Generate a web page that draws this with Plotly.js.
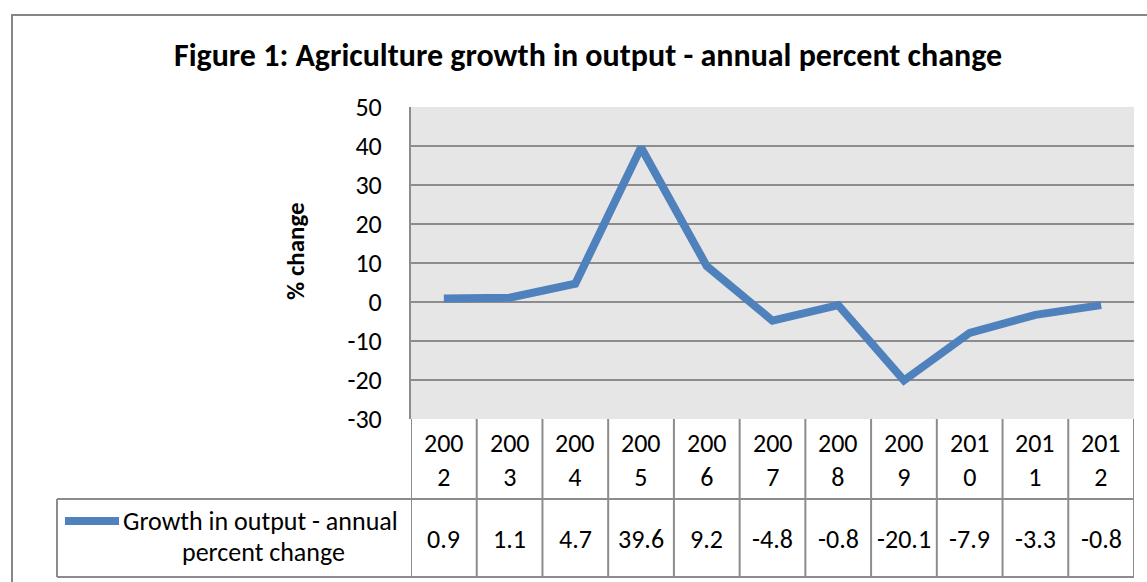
<!DOCTYPE html>
<html>
<head>
<meta charset="utf-8">
<script src="https://cdn.plot.ly/plotly-3.0.1.min.js"></script>
<style>
  html, body { margin: 0; padding: 0; background: #ffffff; }
  #chart { width: 1147px; height: 582px; }
</style>
</head>
<body>
<div id="chart"></div>
<script>
// Agriculture growth in output, annual percent change
const years = ['2002', '2003', '2004', '2005', '2006', '2007', '2008', '2009', '2010', '2011', '2012'];
const growth = [0.9, 1.1, 4.7, 39.6, 9.2, -4.8, -0.8, -20.1, -7.9, -3.3, -0.8];
const yTicks = [-30, -20, -10, 0, 10, 20, 30, 40, 50];
const seriesName = ['Growth in output - annual', 'percent change'];
const chartTitle = 'Figure 1: Agriculture growth in output - annual percent change';
const yAxisTitle = '% change';

const W = 1147, H = 582;
const plotL = 411, plotR = 1134, plotT = 107, plotB = 419;
const FONT = 'Carlito, Calibri, Lato, sans-serif';
const TXT = 26;
const lineCol = '#4f81bd';
const gridCol = '#8c8c8c';

// pixel -> paper coordinate helpers for the frame, table and legend cell
const px = v => (v - plotL) / (plotR - plotL);
const py = v => (plotB - v) / (plotB - plotT);

const idx = years.map((_, i) => i);

const rowYearTop = plotB, rowValTop = 499, rowValBot = 577, legendLeft = 57;

const shapes = [];
// outer chart frame
shapes.push({type: 'rect', xref: 'paper', yref: 'paper',
  x0: px(12), x1: px(1165), y0: py(15), y1: py(600),
  line: {color: '#868686', width: 2}, fillcolor: 'rgba(0,0,0,0)', layer: 'below'});
// data table: vertical cell borders
for (let i = 0; i <= years.length; i++) {
  shapes.push({type: 'line', xref: 'x', yref: 'paper',
    x0: i - 0.5, x1: i - 0.5, y0: py(rowYearTop), y1: py(rowValBot),
    line: {color: gridCol, width: 2}});
}
// legend cell left border
shapes.push({type: 'line', xref: 'paper', yref: 'paper',
  x0: px(legendLeft), x1: px(legendLeft), y0: py(rowValTop), y1: py(rowValBot),
  line: {color: gridCol, width: 2}});
// table horizontal borders
[rowValTop, rowValBot].forEach(yv => {
  shapes.push({type: 'line', xref: 'paper', yref: 'paper',
    x0: px(legendLeft), x1: 1, y0: py(yv), y1: py(yv),
    line: {color: gridCol, width: 2}});
});
// legend swatch
shapes.push({type: 'path', xref: 'paper', yref: 'paper',
  path: 'M' + px(65) + ',' + py(521) + ' L' + px(119) + ',' + py(521),
  line: {color: lineCol, width: 8}});

const annotations = [];
// category header cells
years.forEach((y, i) => {
  annotations.push({xref: 'x', yref: 'paper', x: i, y: py(460),
    text: y.slice(0, 3) + '<br>' + y.slice(3), showarrow: false,
    xanchor: 'center', yanchor: 'middle', align: 'center',
    font: {family: FONT, size: TXT, color: '#000'}});
});
// value cells
growth.forEach((v, i) => {
  annotations.push({xref: 'x', yref: 'paper', x: i, y: py(539),
    text: String(v), showarrow: false, xanchor: 'center', yanchor: 'middle',
    font: {family: FONT, size: TXT, color: '#000'}});
});
// legend text
annotations.push({xref: 'paper', yref: 'paper', x: px(121), y: py(521),
  text: seriesName[0], showarrow: false, xanchor: 'left', yanchor: 'middle',
  font: {family: FONT, size: TXT, color: '#000'}});
annotations.push({xref: 'paper', yref: 'paper', x: px(263), y: py(552),
  text: seriesName[1], showarrow: false, xanchor: 'center', yanchor: 'middle',
  font: {family: FONT, size: TXT, color: '#000'}});
// y-axis title
annotations.push({xref: 'paper', yref: 'paper', x: px(295), y: py(251),
  text: '<b>' + yAxisTitle + '</b>', showarrow: false, textangle: -90,
  xanchor: 'center', yanchor: 'middle',
  font: {family: FONT, size: 25, color: '#000'}});

const trace = {
  x: idx, y: growth, type: 'scatter', mode: 'lines',
  line: {color: lineCol, width: 8, shape: 'linear'},
  hoverinfo: 'skip', showlegend: false
};

const layout = {
  width: W, height: H,
  margin: {l: plotL, r: W - plotR, t: plotT, b: H - plotB, pad: 0},
  paper_bgcolor: '#ffffff', plot_bgcolor: '#e6e6e6',
  title: {text: '<b>' + chartTitle + '</b>', x: px(588), xanchor: 'center',
    y: 1 - 55 / H, yanchor: 'middle', yref: 'container', xref: 'paper',
    font: {family: FONT, size: 32, color: '#000'}},
  xaxis: {range: [-0.5, years.length - 0.5], showgrid: false, zeroline: false,
    showticklabels: false, ticks: '', showline: false, fixedrange: true},
  yaxis: {range: [-30, 50], tickmode: 'array', tickvals: yTicks,
    ticktext: yTicks.map(String), showgrid: true,
    gridcolor: gridCol, gridwidth: 2, zeroline: false,
    showline: true, linecolor: gridCol, linewidth: 2,
    ticks: '', ticklabelstandoff: 22,
    tickfont: {family: FONT, size: TXT, color: '#000'}, fixedrange: true},
  shapes: shapes,
  annotations: annotations,
  showlegend: false
};

Plotly.newPlot('chart', [trace], layout, {displayModeBar: false, staticPlot: true});
</script>
</body>
</html>
